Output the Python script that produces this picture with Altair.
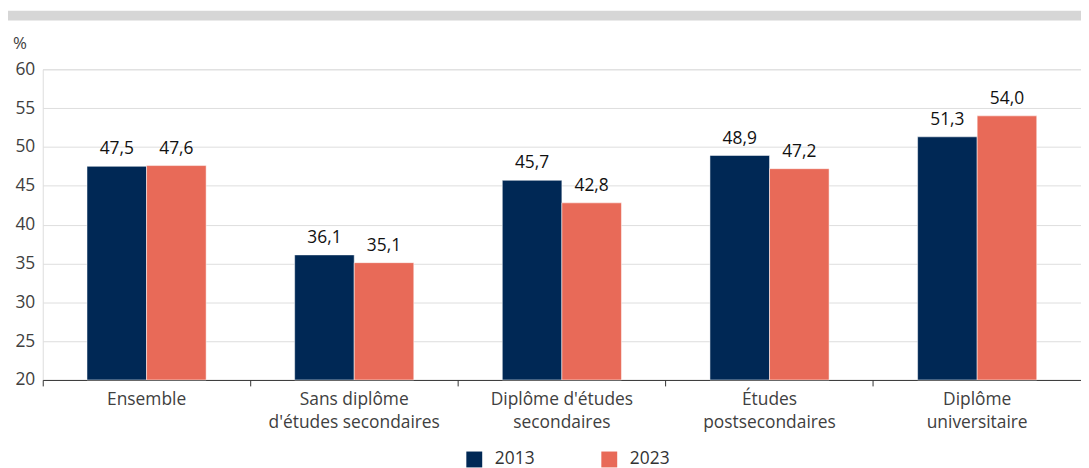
import altair as alt
import pandas as pd

categories = ["Ensemble", "Sans diplôme|d'études secondaires", "Diplôme d'études|secondaires",
              "Études|postsecondaires", "Diplôme|universitaire"]
years = ["2013", "2023"]
values_2013 = [47.5, 36.1, 45.7, 48.9, 51.3]
values_2023 = [47.6, 35.1, 42.8, 47.2, 54.0]
y_ticks = [20, 25, 30, 35, 40, 45, 50, 55, 60]
colors = ["#002855", "#e86a58"]

rows = []
for c, a, b in zip(categories, values_2013, values_2023):
    rows.append({"cat": c, "year": "2013", "value": a, "label": f"{a:.1f}".replace(".", ",")})
    rows.append({"cat": c, "year": "2023", "value": b, "label": f"{b:.1f}".replace(".", ",")})
df = pd.DataFrame(rows)

FONT = "Open Sans"
W, H = 1046, 313

x = alt.X("cat:N", sort=categories, title=None,
          scale=alt.Scale(paddingInner=0, paddingOuter=0),
          axis=alt.Axis(labelExpr="split(datum.label, '|')", labelAngle=0,
                        labelFontSize=17.5, labelColor="#404040", labelFont=FONT,
                        labelLineHeight=23, labelPadding=5, labelBaseline="top",
                        domainColor="#333333", tickColor="#333333", tickSize=6,
                        bandPosition=0, grid=False, labelOverlap=False))
y = alt.Y("value:Q", title=None,
          scale=alt.Scale(domain=[20, 60], nice=False, zero=False),
          axis=alt.Axis(values=y_ticks, labelFontSize=17.5, labelColor="#404040",
                        labelFont=FONT, domain=False, ticks=False, labelPadding=8,
                        gridColor="#dedede", labelOverlap=False))
xo = alt.XOffset("year:N", sort=years, scale=alt.Scale(paddingInner=0, paddingOuter=0.743))
color = alt.Color("year:N", sort=years, scale=alt.Scale(domain=years, range=colors),
                  legend=alt.Legend(title=None, orient="none", legendX=426, legendY=384,
                                    direction="horizontal", symbolType="square",
                                    symbolSize=256, symbolStrokeWidth=0, labelFontSize=17.5,
                                    labelColor="#333333", labelFont=FONT, labelOffset=12,
                                    columnPadding=66, symbolOpacity=1))

base = alt.Chart(df)
bars = base.mark_bar(stroke="white", strokeWidth=0.5).encode(
    x=x, xOffset=xo, y=y, y2=alt.Y2(datum=20), color=color)
texts = base.mark_text(baseline="alphabetic", dy=-12, fontSize=17.5, font=FONT, color="#111111").encode(
    x=x, xOffset=xo, y=y, text="label:N")

gray = alt.Chart(pd.DataFrame({"a": [0]})).mark_rect(color="#d6d6d6", clip=False).encode(
    x=alt.value(-35), x2=alt.value(W), y=alt.value(-59), y2=alt.value(-49))
pct = alt.Chart(pd.DataFrame({"t": ["%"]})).mark_text(
    align="left", baseline="middle", fontSize=17, font=FONT, color="#404040").encode(
    x=alt.value(-30), y=alt.value(-25), text="t:N")

chart = alt.layer(gray, bars, texts, pct).properties(
    width=W, height=H,
    autosize=alt.AutoSizeParams(type="none"),
    padding={"left": 35, "top": 60, "right": 0, "bottom": 87},
).configure_view(stroke=None).configure(font=FONT)

chart.save("out.html", embed_options={"renderer": "svg", "actions": False})
